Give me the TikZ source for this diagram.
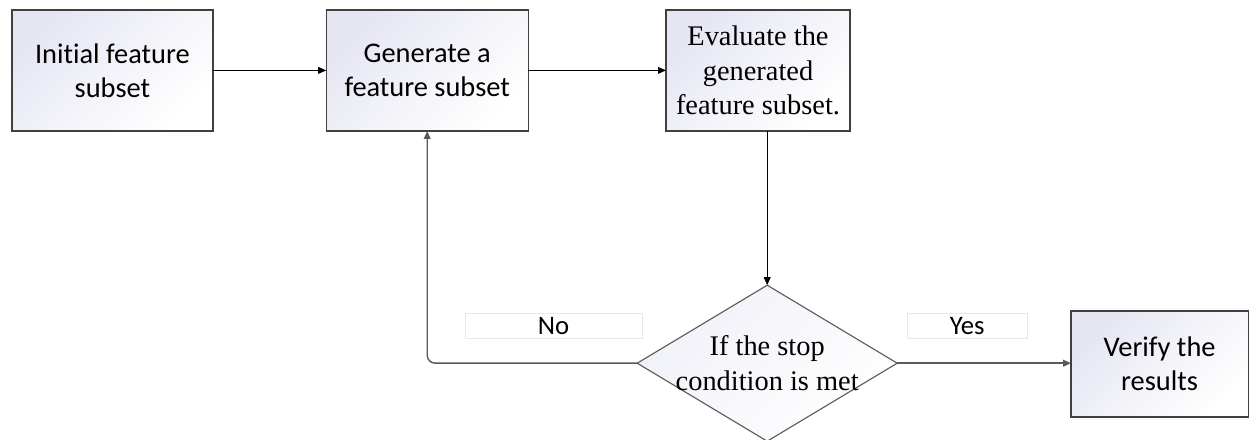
\documentclass[tikz,border=0pt]{standalone}
\usepackage{fontspec}
\setmainfont{Liberation Serif}
\newfontfamily\calibrifont[Ligatures=NoCommon]{Carlito}
\usetikzlibrary{shapes.geometric, arrows.meta, calc}
\definecolor{boxtint}{HTML}{E6E6F3}
\definecolor{boxedge}{HTML}{404040}
\definecolor{loopgray}{HTML}{5A5A5A}
\definecolor{tagedge}{HTML}{E2E9F1}

\tikzset{
  stepbox/.style={draw=boxedge, line width=1pt, top color=boxtint, bottom color=white, shading angle=45,
    minimum height=3.03cm, inner sep=0pt, outer sep=0pt, align=center},
  sanstext/.style={font=\calibrifont\fontsize{20.2}{24}\selectfont},
  seriftext/.style={font=\fontsize{20.2}{24.5}\selectfont},
  decision/.style={diamond, draw=loopgray, line width=0.8pt, top color=boxtint!60, bottom color=white, shading angle=45,
    minimum width=6.5cm, minimum height=3.9cm, inner sep=0pt, outer sep=0pt},
  flow/.style={-{Triangle[length=0.2cm, width=0.17cm]}, line width=0.7pt, black},
  loopflow/.style={flow, loopgray, line width=1pt},
  answer/.style={draw=tagedge, fill=white, line width=0.6pt, minimum height=0.63cm, inner sep=0pt,
    font=\calibrifont\fontsize{19}{22}\selectfont}
}

\begin{document}
\begin{tikzpicture}
  \useasboundingbox (0,0) rectangle (31.4,-11);

  % Top row of steps
  \node[stepbox, sanstext, minimum width=5.03cm] (init) at (2.81,-1.76) {Initial feature\\subset};
  \node[stepbox, sanstext, minimum width=5.05cm] (gen) at (10.68,-1.76) {Generate a\\feature subset};
  \node[stepbox, seriftext, minimum width=4.6cm] (eval) at (18.95,-1.76) {Evaluate the\\generated\\feature subset.};

  % Stop check and result
  \node[decision] (stop) at (19.18,-9.08) {};
  \node[seriftext, align=center] (stoptext) at (stop.center) {If the stop\\condition is met};
  \node[stepbox, sanstext, minimum width=4.43cm, minimum height=2.65cm] (verify) at (28.99,-9.1) {Verify the\\results};

  % Branch tags
  \node[answer, minimum width=4.43cm] (no) at (13.84,-8.14) {No};
  \node[answer, minimum width=3.0cm] (yes) at (24.18,-8.14) {Yes};

  % Connectors
  \draw[flow] (init) -- (gen);
  \draw[flow] (gen) -- (eval);
  \draw[flow] (stop.north |- eval.south) -- (stop.north);
  \draw[loopflow, rounded corners=0.2cm] (stop.west) -| (gen.south);
  \draw[loopflow] (stop.east) -- (stop.east -| verify.west);
\end{tikzpicture}
\end{document}
